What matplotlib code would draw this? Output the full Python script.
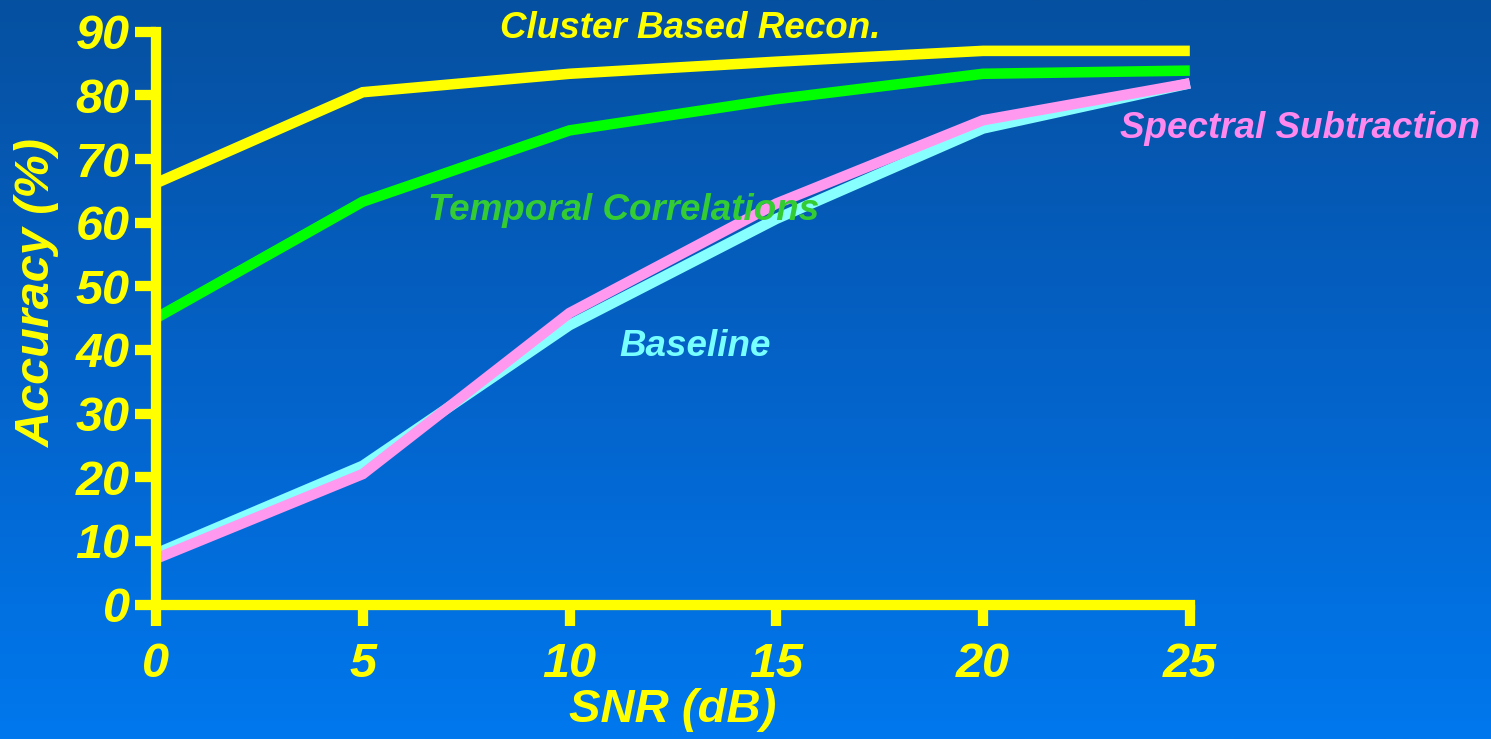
import numpy as np
import matplotlib
matplotlib.use("Agg")
import matplotlib.pyplot as plt
from matplotlib.colors import LinearSegmentedColormap

snr = [0, 5, 10, 15, 20, 25]
cluster = [66.2, 80.5, 83.4, 85.3, 87.0, 87.0]
temporal = [45.0, 63.3, 74.5, 79.4, 83.4, 83.9]
baseline = [8.0, 21.8, 43.9, 60.6, 74.8, 81.9]
spectral = [7.2, 20.5, 45.8, 63.0, 76.1, 81.9]

x_ticks = [0, 5, 10, 15, 20, 25]
y_ticks = [0, 10, 20, 30, 40, 50, 60, 70, 80, 90]

YELLOW = "#ffff00"
FONT = {"family": "Liberation Sans", "weight": "bold", "style": "italic"}

fig = plt.figure(figsize=(14.91, 7.39), dpi=100)

# background gradient
bg = fig.add_axes([0, 0, 1, 1], zorder=-10)
cmap = LinearSegmentedColormap.from_list("bg", ["#0650a0", "#0462c8", "#0078ee"])
bg.imshow(np.linspace(0, 1, 256).reshape(-1, 1), aspect="auto", cmap=cmap,
          extent=[0, 1, 0, 1])
bg.axis("off")

ax = fig.add_axes([0.1046, 0.182, 0.6934, 0.775])
ax.patch.set_alpha(0)

lw = 7.6
common = dict(solid_capstyle="butt", solid_joinstyle="miter", clip_on=False)
ax.plot(snr, baseline, color="#88ffff", lw=lw, zorder=3, **common)
ax.plot(snr, spectral, color="#ff99f0", lw=lw, zorder=4, **common)
ax.plot(snr, temporal, color="#00ff00", lw=lw, zorder=5, **common)
ax.plot(snr, cluster, color=YELLOW, lw=lw, zorder=6, **common)

ax.set_xlim(0, 25)
ax.set_ylim(0, 90)
ax.set_xticks(x_ticks)
ax.set_yticks(y_ticks)

for side in ["top", "right"]:
    ax.spines[side].set_visible(False)
for side in ["left", "bottom"]:
    ax.spines[side].set_color(YELLOW)
    ax.spines[side].set_linewidth(7.4)
    ax.spines[side].set_zorder(7)
    ax.spines[side].set_capstyle("projecting")

ax.tick_params(direction="out", length=15, width=7.4, color=YELLOW,
               labelcolor=YELLOW)
ax.tick_params(axis="x", pad=12)
ax.tick_params(axis="y", pad=4)
for lab in ax.get_xticklabels() + ax.get_yticklabels():
    lab.set_fontsize(35)
    lab.set(**FONT)

ax.set_xlabel("SNR (dB)", color=YELLOW, fontsize=34, labelpad=1, **FONT)
ax.set_ylabel("Accuracy (%)", color=YELLOW, fontsize=35, **FONT)
ax.yaxis.set_label_coords(-0.093, 0.544)

txt = dict(fontsize=26.5, ha="center", va="center", zorder=10, **FONT)
fig.text(690 / 1491, 1 - 28 / 739, "Cluster Based Recon.", color=YELLOW, **txt)
fig.text(624 / 1491, 1 - 211 / 739, "Temporal Correlations", color="#33cc33", **txt)
fig.text(695 / 1491, 1 - 346 / 739, "Baseline", color="#77ffff", **txt)
fig.text(1300 / 1491, 1 - 128 / 739, "Spectral Subtraction", color="#ff88ee", **txt)

fig.savefig("out.png", dpi=100)
